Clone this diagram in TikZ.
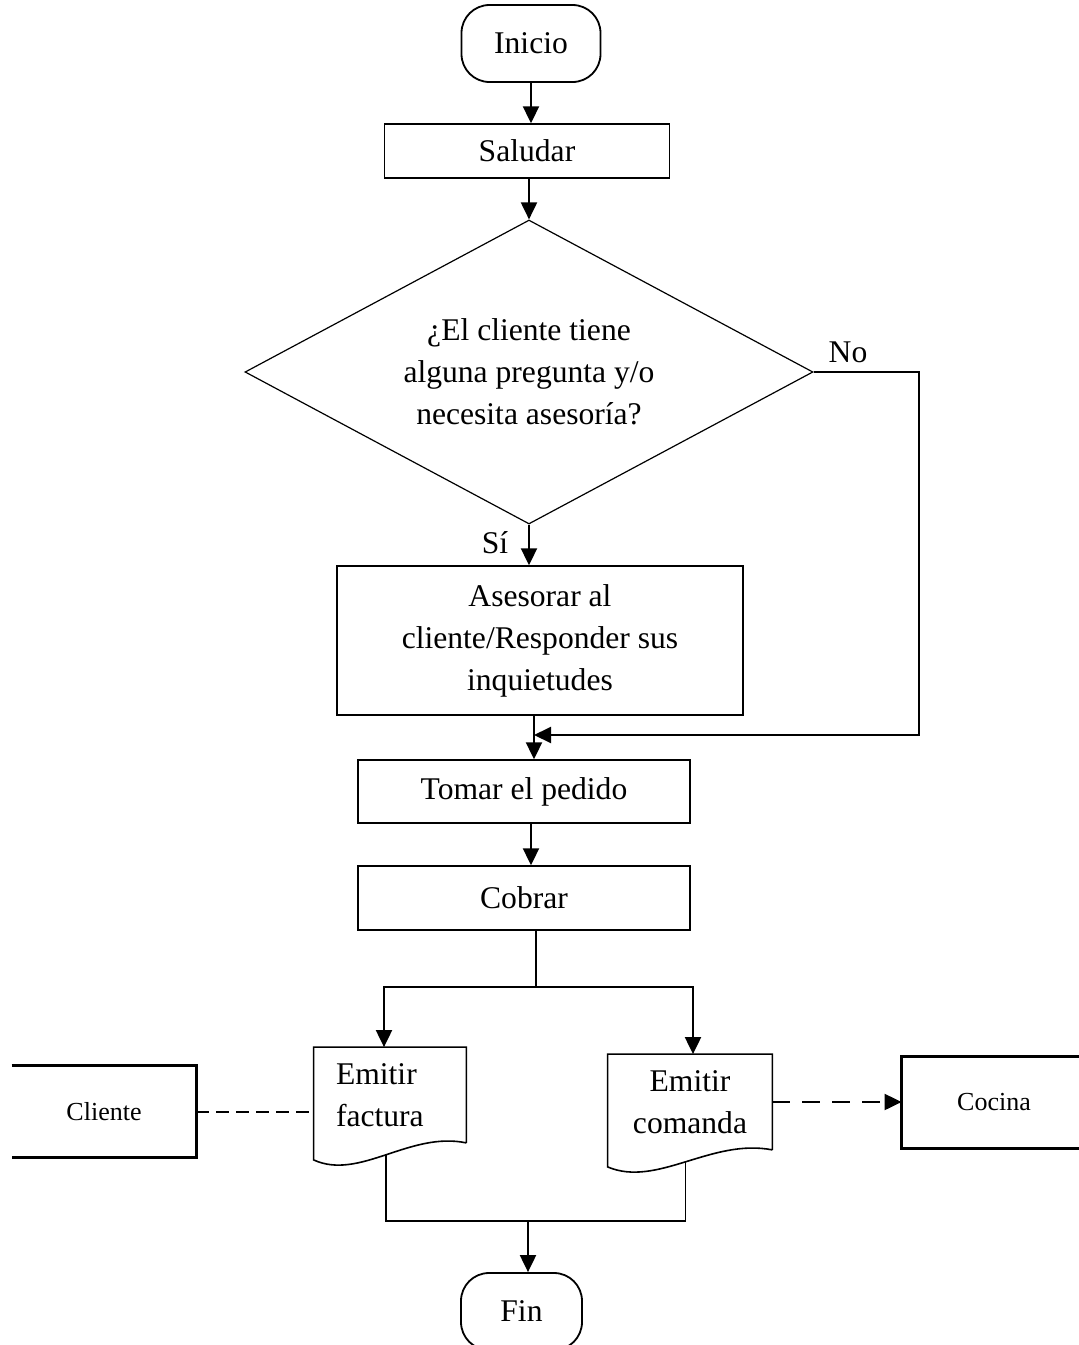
\documentclass[tikz,border=0pt]{standalone}
\usepackage{fontspec}
\setmainfont{Liberation Serif}
\usepackage{tikz}
\usetikzlibrary{shapes.geometric,arrows.meta,calc}

% document symbol: box open at the bottom, closed by a wave
\newcommand{\docwave}[1]{%
  \draw[docline] (#1.south east) -- (#1.north east) -- (#1.north west)
    -- ($(#1.south west)+(0,17)$)
    .. controls ($(#1.south east)!0.70!(#1.south west)+(0,38)$)
            and ($(#1.south east)!0.37!(#1.south west)+(0,-12)$) .. (#1.south east)
    coordinate[pos=0.5] (#1-w);
}

\begin{document}
\begin{tikzpicture}[x=0.5pt,y=-0.5pt,>={Triangle[length=8.5pt,width=8pt]},
   every node/.style={font=\fontsize{15.8}{21}\selectfont},
   conn/.style={line width=1pt},
   docline/.style={line width=0.8pt},
   term/.style={draw,line width=0.9pt,rectangle,rounded corners=14pt,
     minimum width=69.5pt,minimum height=38.5pt},
   proc/.style={draw,line width=0.7pt,rectangle,align=center,inner sep=0pt},
   decision/.style={draw,line width=0.6pt,diamond,aspect=1.87,align=center,
     minimum width=284pt,minimum height=152pt,inner sep=0pt},
   docbox/.style={rectangle,inner sep=0pt,minimum height=47.5pt},
   extbox/.style={rectangle,inner sep=0pt,minimum width=92pt,minimum height=45.5pt,
     font=\fontsize{13}{15}\selectfont},
   extline/.style={line width=1.2pt}]
  \useasboundingbox (0,0) rectangle (1078,1345);

  % main column
  \node[term] (inicio) at (531,43.5) {Inicio};
  \node[proc,minimum width=142.5pt,minimum height=27pt] (saludar) at (527,151) {Saludar};
  \node[decision] (dec) at (529,372) {¿El cliente tiene\\alguna pregunta y/o\\necesita asesoría?};
  \node[proc,minimum width=203pt,minimum height=74.5pt] (ases) at (540,640.5)
    {Asesorar al\\cliente/Responder sus\\inquietudes};
  \node[proc,minimum width=166pt,minimum height=31.5pt] (tomar) at (524,791.5) {Tomar el pedido};
  \node[proc,minimum width=166pt,minimum height=32pt] (cobrar) at (524,898) {Cobrar};

  % documents
  \node[docbox,minimum width=76pt,text width=54pt,align=left] (factura) at (390,1095)
    {Emitir\\factura};
  \node[docbox,minimum width=82pt,align=center] (comanda) at (690,1102) {Emitir\\comanda};
  \docwave{factura}
  \docwave{comanda}

  % outside parties
  \node[extbox] (cliente) at (104,1111.5) {Cliente};
  \node[extbox] (cocina) at (994,1102.5) {Cocina};
  \draw[extline] (cliente.north west) -- (cliente.north east)
    -- (cliente.south east) -- (cliente.south west);
  \draw[extline] (cocina.north east) -- (cocina.north west)
    -- (cocina.south west) -- (cocina.south east);

  \node[term,minimum width=60.5pt] (fin) at (521.5,1311.5) {Fin};

  \node (lblno) at (848,352) {No};
  \node (lblsi) at (495,543) {Sí};

  \coordinate (merge) at (534,735);
  \coordinate (split) at (536,987);
  \coordinate (join) at (528,1221);

  % connectors
  \draw[conn,->] (inicio.south) -- (inicio.south |- saludar.north);
  \draw[conn,->] (saludar.south -| dec.north) -- (dec.north);
  \draw[conn,->] (dec.south) -- (dec.south |- ases.north);
  \draw[conn,->] (dec.east) -- ++(105,0) |- (merge);
  \draw[conn,->] (ases.south -| merge) -- (merge |- tomar.north);
  \draw[conn,->] (tomar.south -| inicio) -- (cobrar.north -| inicio);
  \draw[line width=0.7pt] (cobrar.south -| split) -- (split);
  \draw[conn,->] (split) -| ($(factura.north)+(-6,0)$);
  \draw[conn,->] (split) -| ($(comanda.north)+(3,0)$);
  \draw[line width=0.7pt] (factura-w) |- (join) -| (comanda-w);
  \draw[conn,->] (join) -- (join |- fin.north);
  \draw[conn,dash pattern=on 6.5pt off 3.5pt] (cliente.east) -- (cliente.east -| factura.west);
  \draw[conn,->,dash pattern=on 9pt off 6pt] (comanda.east) -- (comanda.east -| cocina.west);
\end{tikzpicture}
\end{document}
